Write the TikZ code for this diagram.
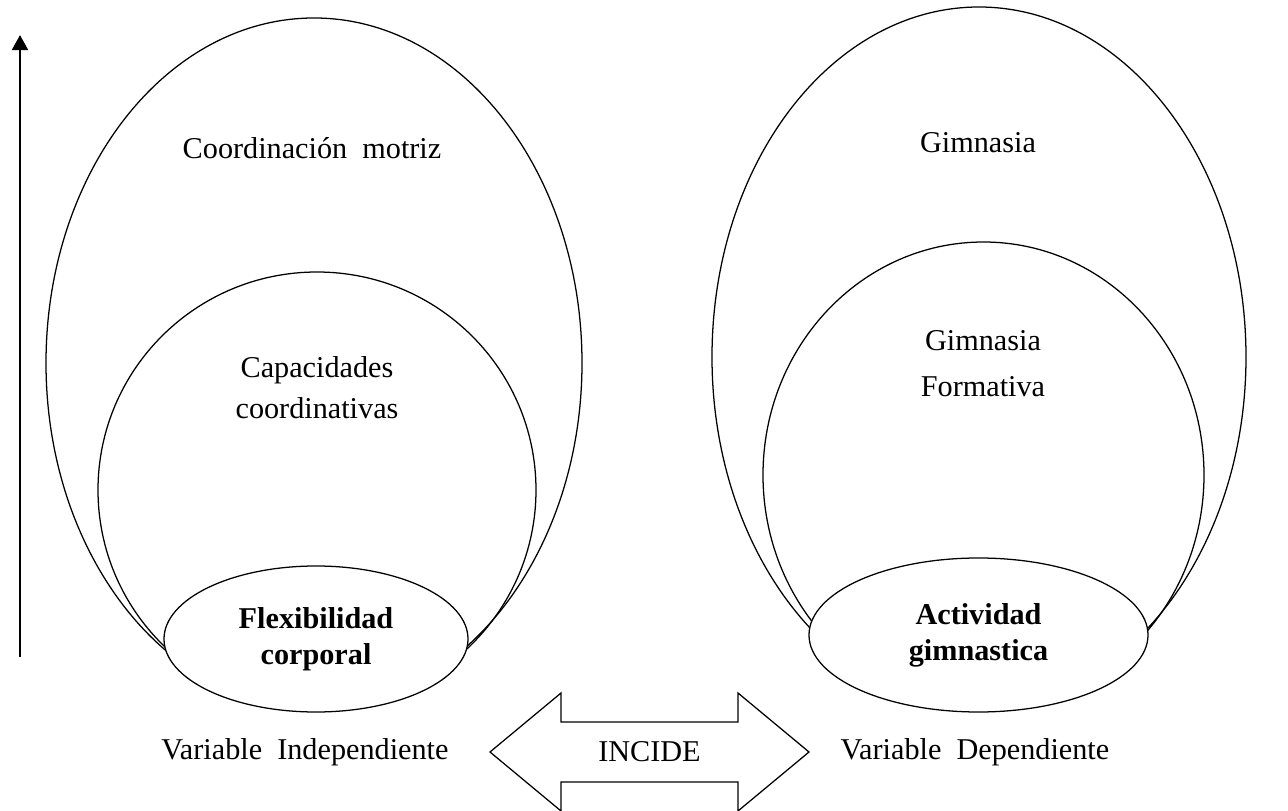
\documentclass[tikz,border=0pt]{standalone}
\usepackage{fontspec}
\setmainfont{Liberation Serif}
\usetikzlibrary{
  shapes.geometric,
  arrows.meta,
  positioning,
  calc
}

\begin{document}
\begin{tikzpicture}[
    every node/.style={font=\fontsize{21.5}{29}\selectfont},
    oval/.style={ellipse, draw, line width=0.9pt, inner sep=0pt},
    core/.style={oval, fill=white, align=center,
                 font=\fontsize{21.5}{25.5}\selectfont\bfseries},
    txt/.style={align=center},
    bigarrow/.style={draw, line width=0.9pt, fill=white},
    upaxis/.style={-{Triangle[width=4mm,length=3.8mm]}, line width=1.9pt},
]
\fill[white] (0,0) rectangle (32.2,-20.275);
\useasboundingbox (0,0) rectangle (32.2,-20.275);

% Variable independiente
\node[oval, minimum width=13.4cm, minimum height=17.25cm] (coord) at (7.85,-9.075) {};
\node[oval, minimum width=10.95cm, minimum height=10.9cm] (capac) at (7.925,-12.25) {};
\node[core, minimum width=7.6cm, minimum height=3.65cm] (flex) at (7.9,-15.975) {Flexibilidad\\corporal};

\node[txt] (coordlbl) at (7.8,-3.7) {Coordinación\ \ motriz};
\node[txt] (capaclbl) at (7.925,-9.69) {Capacidades\\coordinativas};

% Variable dependiente
\node[oval, minimum width=13.35cm, minimum height=17.5cm] (gimn) at (24.475,-8.925) {};
\node[oval, minimum width=11.025cm, minimum height=11.65cm] (form) at (24.5875,-11.875) {};
\node[core, minimum width=8.475cm, minimum height=3.85cm] (activ) at (24.4625,-15.875) {Actividad\\gimnastica};

\node[txt] (gimnlbl) at (24.45,-3.575) {Gimnasia};
\node[txt, font=\fontsize{21.5}{33}\selectfont] (formlbl) at (24.575,-9.09) {Gimnasia\\Formativa};

% Rotulos inferiores
\node[txt] (indep) at (7.625,-18.8) {Variable\ \ Independiente};
\node[txt] (dep) at (24.375,-18.8) {Variable\ \ Dependiente};

% Flecha doble
\coordinate (mid) at (16.2375,-18.8);
\draw[bigarrow] ($(mid)+(-3.9875,0)$) -- ++(1.775,1.475) -- ++(0,-0.725)
  -- ++(4.425,0) -- ++(0,0.725) -- ++(1.775,-1.475) -- ++(-1.775,-1.475)
  -- ++(0,0.725) -- ++(-4.425,0) -- ++(0,-0.725) -- cycle;
\node (incide) at (mid) {INCIDE};

% Eje vertical
\coordinate (axisfoot) at (0.5,-16.425);
\coordinate (axistop) at (0.5,-0.875);
\draw[upaxis] (axisfoot) -- (axistop);

\end{tikzpicture}
\end{document}
